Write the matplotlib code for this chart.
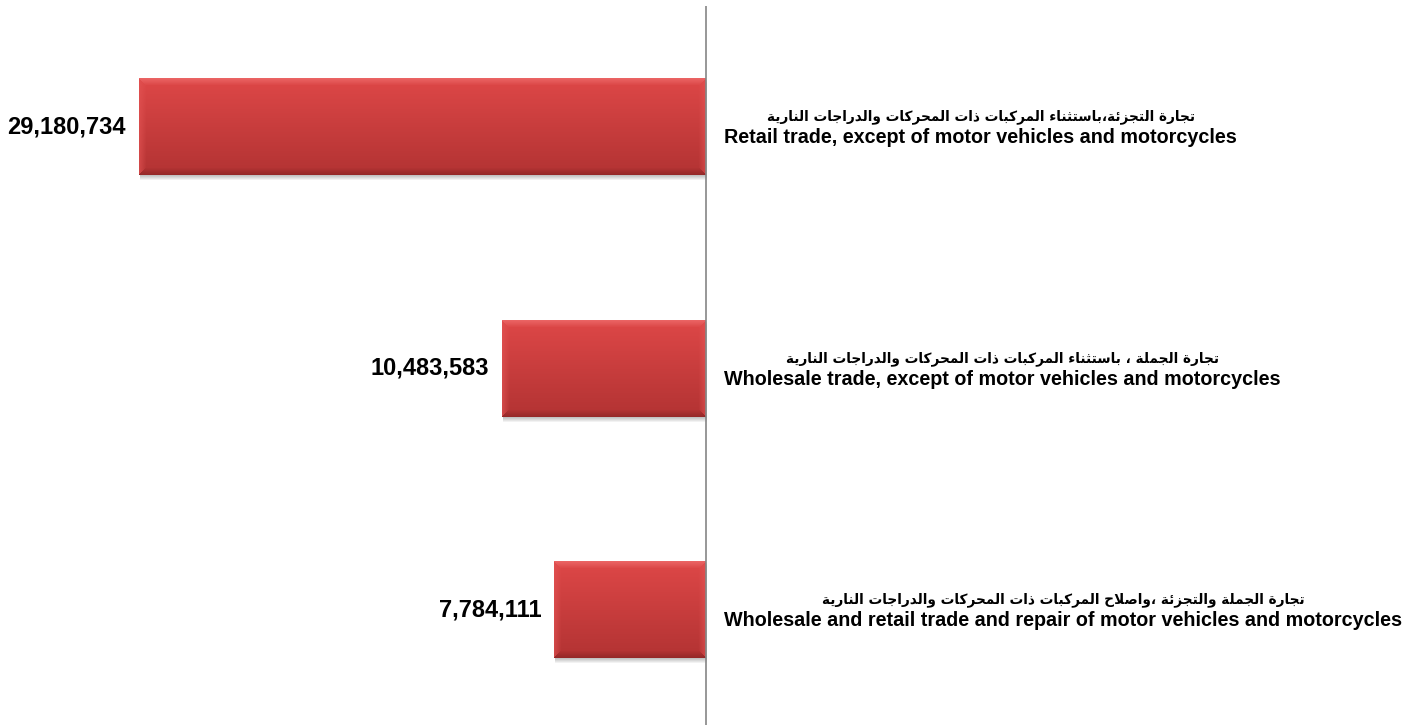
import numpy as np
import matplotlib
matplotlib.use("Agg")
import matplotlib.pyplot as plt
from matplotlib.transforms import offset_copy

# ── Data ────────────────────────────────────────────
values = [29180734, 10483583, 7784111]
labels_en = [
    "Retail trade, except of motor vehicles and motorcycles",
    "Wholesale trade, except of motor vehicles and motorcycles",
    "Wholesale and retail trade and repair of motor vehicles and motorcycles",
]
labels_ar = [
    "تجارة التجزئة،باستثناء المركبات ذات المحركات والدراجات النارية",
    "تجارة الجملة ، باستثناء المركبات ذات المحركات والدراجات النارية",
    "تجارة الجملة والتجزئة ،واصلاح المركبات ذات المحركات والدراجات النارية",
]

# ── Minimal Arabic shaping (presentation forms + RTL order) ──
DUAL = {'ئ': 0xFE89, 'ب': 0xFE8F, 'ت': 0xFE95, 'ث': 0xFE99, 'ج': 0xFE9D,
        'ح': 0xFEA1, 'خ': 0xFEA5, 'س': 0xFEB1, 'ش': 0xFEB5, 'ص': 0xFEB9,
        'ض': 0xFEBD, 'ط': 0xFEC1, 'ظ': 0xFEC5, 'ع': 0xFEC9, 'غ': 0xFECD,
        'ف': 0xFED1, 'ق': 0xFED5, 'ك': 0xFED9, 'ل': 0xFEDD, 'م': 0xFEE1,
        'ن': 0xFEE5, 'ه': 0xFEE9, 'ي': 0xFEF1}
RIGHT = {'آ': 0xFE81, 'أ': 0xFE83, 'ؤ': 0xFE85, 'إ': 0xFE87, 'ا': 0xFE8D,
         'ة': 0xFE93, 'د': 0xFEA9, 'ذ': 0xFEAB, 'ر': 0xFEAD, 'ز': 0xFEAF,
         'و': 0xFEED, 'ى': 0xFEEF, '\uFEFB': 0xFEFB}


def shape_arabic(text):
    text = text.replace('لا', '\uFEFB')  # lam-alef ligature
    out = []
    for i, c in enumerate(text):
        prev = text[i - 1] if i > 0 else ''
        nxt = text[i + 1] if i + 1 < len(text) else ''
        jp = prev in DUAL and (c in DUAL or c in RIGHT)
        jn = c in DUAL and (nxt in DUAL or nxt in RIGHT)
        if c in DUAL:
            code = DUAL[c] + (3 if jp and jn else 2 if jn else 1 if jp else 0)
            out.append(chr(code))
        elif c in RIGHT:
            out.append(chr(RIGHT[c] + (1 if jp else 0)))
        elif c == 'ء':
            out.append('\uFE80')
        else:
            out.append(c)
    return ''.join(reversed(out))


def bar_image(w, h, b=7):
    """RGB bevelled red gradient, w x h pixels."""
    t = np.linspace(0, 1, h)[:, None] * np.ones((1, w))
    top = np.array([0.87, 0.28, 0.28])
    bot = np.array([0.70, 0.20, 0.20])
    img = top[None, None, :] * (1 - t[..., None]) + bot[None, None, :] * t[..., None]
    yy, xx = np.mgrid[0:h, 0:w]
    dt, db, dl, dr = yy, h - 1 - yy, xx, w - 1 - xx
    dmin = np.minimum(np.minimum(dt, db), np.minimum(dl, dr))
    f = np.clip(1 - dmin / b, 0, 1)[..., None]
    light = np.array([0.93, 0.42, 0.42])
    dark = np.array([0.56, 0.15, 0.15])
    side = np.array([0.89, 0.33, 0.33])
    m_top = (dt == dmin)[..., None]
    m_bot = ((db == dmin) & ~(dt == dmin))[..., None]
    m_side = ~(m_top | m_bot)
    img = np.where(m_top, img * (1 - f * 0.8) + light * f * 0.8, img)
    img = np.where(m_bot, img * (1 - f * 0.8) + dark * f * 0.8, img)
    img = np.where(m_side, img * (1 - f * 0.6) + side * f * 0.6, img)
    return np.clip(img, 0, 1)


# ── Layout ──────────────────────────────────────────
W, H, DPI = 1407, 725, 100
ZERO_PX = 705.5          # x pixel of the value axis
PX_PER_UNIT = 566.5 / 29180734
BAR_H = 0.4

fig = plt.figure(figsize=(W / DPI, H / DPI), dpi=DPI)
ax = fig.add_axes([0, (H - 730.5) / H, 1, 724.5 / H])
ax.set_xlim(ZERO_PX / PX_PER_UNIT, -(W - ZERO_PX) / PX_PER_UNIT)
ax.set_ylim(2.5, -0.5)
ax.axis("off")

ypos = np.arange(len(values))

# soft shadow under bars
for k in range(1, 6):
    tr = offset_copy(ax.transData, fig=fig, x=1, y=-k, units="dots")
    ax.barh(ypos, values, height=BAR_H, color="black", alpha=0.05, transform=tr, zorder=1)

bars = ax.barh(ypos, values, height=BAR_H, color="#C83A3A", zorder=2)
for rect, v, y in zip(bars, values, ypos):
    w_px = max(int(round(v * PX_PER_UNIT)), 2)
    h_px = int(round(BAR_H * 241.5))
    im = ax.imshow(bar_image(w_px, h_px), extent=(v, 0, y + BAR_H / 2, y - BAR_H / 2),
                   origin="upper", aspect="auto", interpolation="bilinear", zorder=3)
    im.set_clip_path(rect)

ax.set_xlim(ZERO_PX / PX_PER_UNIT, -(W - ZERO_PX) / PX_PER_UNIT)
ax.set_ylim(2.5, -0.5)

# value axis line
ax.axvline(0, color="#858585", lw=1.2, zorder=4)

# value labels
for v, y in zip(values, ypos):
    ax.annotate(f"{v:,}", xy=(v, y), xytext=(-13, 0), textcoords="offset pixels",
                ha="right", va="center", fontsize=17, fontweight="bold",
                family="Liberation Sans", color="black")

# category labels (Arabic over English)
for en, ar, y in zip(labels_en, labels_ar, ypos):
    t_en = ax.annotate(en, xy=(0, y), xytext=(19, -11), textcoords="offset pixels",
                       ha="left", va="center", fontsize=14.25, fontweight="bold",
                       family="Liberation Sans", color="black")
    ax.annotate(shape_arabic(ar), xy=(0.5, 1), xycoords=t_en, xytext=(0, 4),
                textcoords="offset pixels", ha="center", va="bottom", fontsize=9.8,
                fontweight="bold", family=["DejaVu Sans"], color="black")

fig.savefig("out.png", dpi=DPI)
